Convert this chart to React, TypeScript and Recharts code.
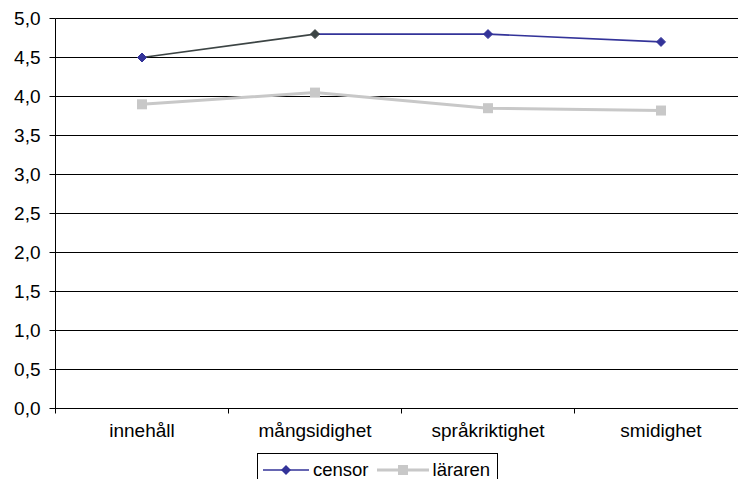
import { LineChart, Line, XAxis, YAxis, CartesianGrid } from 'recharts';

const categories = ['innehåll', 'mångsidighet', 'språkriktighet', 'smidighet'];
const censor = [4.5, 4.8, 4.8, 4.7];
const lararen = [3.9, 4.05, 3.85, 3.82];
const yTicks = [0, 0.5, 1, 1.5, 2, 2.5, 3, 3.5, 4, 4.5, 5];

const data = categories.map((name, i) => ({ name, censor: censor[i], lararen: lararen[i] }));

const FONT = '"Liberation Sans", Arial, sans-serif';
const NAVY = '#333399';
const DARK = '#3c4444';
const GRAY = '#c8c8c8';

const CHART_W = 760;
const CHART_H = 479;
// half-pixel offsets keep the 1px grid and axis lines crisp
const MARGIN = { top: 18.5, right: 12.5, left: 5.5, bottom: 0 };
const PLOT_H = 390;
const Y_W = 50;
const BAND = (CHART_W - MARGIN.left - MARGIN.right - Y_W) / categories.length;

function XTick(props: any) {
    const { x, y, payload } = props;
    return (
        <g>
            <line x1={x - BAND / 2} x2={x - BAND / 2} y1={y} y2={y + 5} stroke="#000" />
            <text x={x} y={y + 28} textAnchor="middle" fontSize={19} fontFamily={FONT} fill="#000">
                {payload.value}
            </text>
        </g>
    );
}

function Diamond(props: any) {
    const { cx, cy, index } = props;
    const c = index === 1 ? DARK : NAVY;
    const s = 4.5;
    return (
        <path
            key={`d-${index}`}
            d={`M${cx},${cy - s}L${cx + s},${cy}L${cx},${cy + s}L${cx - s},${cy}Z`}
            fill={c}
            stroke={c}
        />
    );
}

function Square(props: any) {
    const { cx, cy, index } = props;
    return <rect key={`s-${index}`} x={cx - 5} y={cy - 5} width={10} height={10} fill={GRAY} />;
}

function LegendBox() {
    return (
        <div
            style={{
                position: 'absolute',
                left: 257,
                top: 453,
                width: 241,
                height: 34,
                border: '1px solid #000',
                background: '#fff',
                display: 'flex',
                alignItems: 'center',
                fontFamily: FONT,
                fontSize: 18.5,
                boxSizing: 'border-box',
                paddingLeft: 5,
            }}
        >
            <svg width={46} height={14}>
                <line x1={0} x2={46} y1={7} y2={7} stroke={NAVY} strokeWidth={1.5} />
                <path d="M23,2L28,7L23,12L18,7Z" fill={NAVY} />
            </svg>
            <span style={{ marginLeft: 4 }}>censor</span>
            <svg width={52} height={14} style={{ marginLeft: 8 }}>
                <line x1={0} x2={52} y1={7} y2={7} stroke={GRAY} strokeWidth={3} />
                <rect x={21} y={2} width={10} height={10} fill={GRAY} />
            </svg>
            <span style={{ marginLeft: 4 }}>läraren</span>
        </div>
    );
}

export default function App() {
    return (
        <div
            style={{
                position: 'absolute',
                left: 0,
                top: 0,
                width: 738,
                height: 479,
                overflow: 'hidden',
                background: '#fff',
            }}
        >
            <LineChart width={CHART_W} height={CHART_H} data={data} margin={MARGIN}>
                <defs>
                    <linearGradient id="censorStroke" x1="0" y1="0" x2="1" y2="0">
                        <stop offset="0" stopColor={DARK} />
                        <stop offset="0.333" stopColor={DARK} />
                        <stop offset="0.334" stopColor={NAVY} />
                        <stop offset="1" stopColor={NAVY} />
                    </linearGradient>
                </defs>
                <CartesianGrid vertical={false} stroke="#000" strokeWidth={1} />
                <XAxis
                    dataKey="name"
                    height={CHART_H - MARGIN.top - PLOT_H}
                    axisLine={{ stroke: '#000' }}
                    tickLine={false}
                    tickSize={0}
                    tickMargin={0}
                    tick={<XTick />}
                    interval={0}
                    padding={{ left: BAND / 2, right: BAND / 2 }}
                />
                <YAxis
                    width={Y_W}
                    domain={[0, 5]}
                    ticks={yTicks}
                    interval={0}
                    axisLine={{ stroke: '#000' }}
                    tickLine={{ stroke: '#000' }}
                    tickSize={6}
                    tickMargin={9}
                    tickFormatter={(v: number) => v.toFixed(1).replace('.', ',')}
                    tick={{ fontSize: 19, fontFamily: FONT, fill: '#000' }}
                />
                <Line
                    dataKey="lararen"
                    name="läraren"
                    stroke={GRAY}
                    strokeWidth={3}
                    dot={<Square />}
                    activeDot={false}
                    isAnimationActive={false}
                />
                <Line
                    dataKey="censor"
                    name="censor"
                    stroke="url(#censorStroke)"
                    strokeWidth={1.6}
                    dot={<Diamond />}
                    activeDot={false}
                    isAnimationActive={false}
                />
            </LineChart>
            <LegendBox />
        </div>
    );
}
